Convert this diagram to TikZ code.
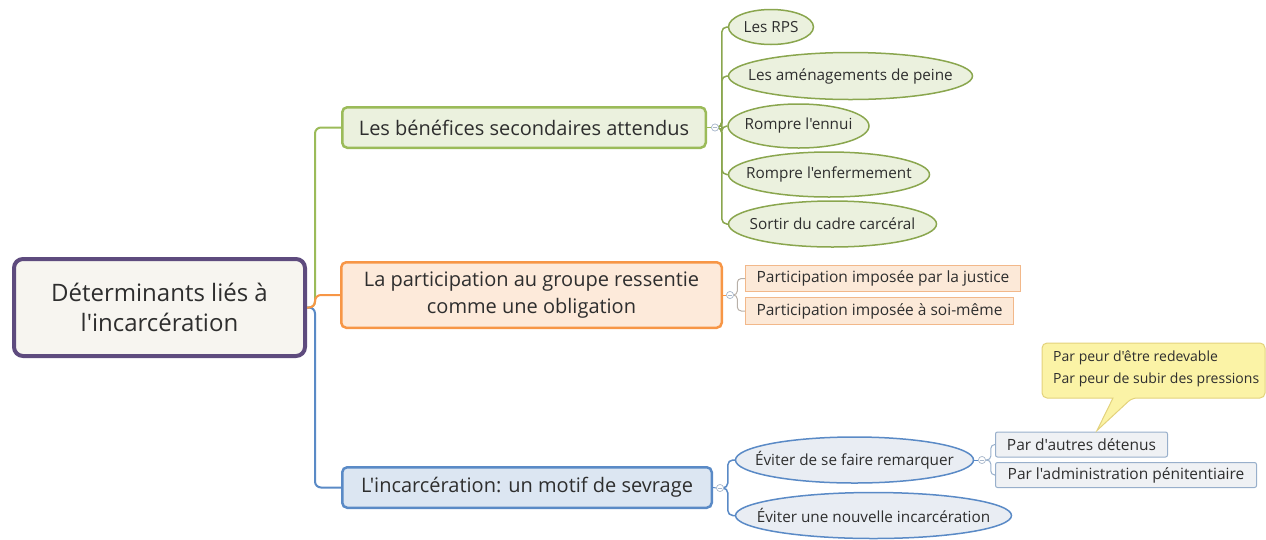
\documentclass[tikz,border=0pt]{standalone}
\usepackage{fontspec}
\setmainfont{Open Sans}[Ligatures=TeXOff]
\usetikzlibrary{shapes.geometric}
\definecolor{txt}{HTML}{2E2E2E}
\definecolor{purp}{HTML}{5E4B7E}
\definecolor{rootfill}{HTML}{F7F5F0}
\definecolor{grn}{HTML}{9BBB59}
\definecolor{grnfill}{HTML}{EBF1DE}
\definecolor{grnline}{HTML}{8AA64E}
\definecolor{org}{HTML}{F79646}
\definecolor{orgfill}{HTML}{FDEADA}
\definecolor{orgleaf}{HTML}{F2B88A}
\definecolor{orgleaffill}{HTML}{FCE9D8}
\definecolor{orgline}{HTML}{B8B0A8}
\definecolor{blu}{HTML}{5A8AC6}
\definecolor{blufill}{HTML}{DCE6F2}
\definecolor{bluleaf}{HTML}{E9EDF3}
\definecolor{rectfill}{HTML}{EFF1F4}
\definecolor{rectline}{HTML}{98AFCB}
\definecolor{callfill}{HTML}{FBF3A6}
\definecolor{callline}{HTML}{E3D27C}
\definecolor{collapse}{HTML}{A9B8CC}
\begin{document}
\begin{tikzpicture}[x=1pt,y=-1pt,
  rootbox/.style={draw=purp, line width=4pt, fill=rootfill, rounded corners=9pt, align=center,
    font=\fontsize{24}{30}\selectfont, text=txt, minimum width=291pt, minimum height=97pt, inner sep=0pt},
  branch/.style={rectangle, rounded corners=5pt, line width=2.5pt, align=center,
    font=\fontsize{20}{27}\selectfont, text=txt, inner sep=0pt},
  gleaf/.style={ellipse, draw=grnline, fill=grnfill, line width=1.5pt, inner xsep=-300pt, inner ysep=-60pt,
    font=\fontsize{15.3}{18}\selectfont, text=txt},
  bleaf/.style={ellipse, draw=blu, fill=bluleaf, line width=1.5pt, inner xsep=-300pt, inner ysep=-60pt,
    font=\fontsize{15.3}{18}\selectfont, text=txt},
  oleaf/.style={rectangle, draw=orgleaf, fill=orgleaffill, line width=1pt, inner sep=0pt,
    font=\fontsize{15.5}{18}\selectfont, text=txt},
  rleaf/.style={rectangle, rounded corners=2pt, draw=rectline, fill=rectfill, line width=1pt, inner sep=0pt,
    font=\fontsize{15.5}{18}\selectfont, text=txt},
  knob/.style={circle, draw=collapse, fill=white, minimum size=7pt, inner sep=0pt, line width=0.6pt},
  conn/.style={line width=2pt, rounded corners=6pt},
  lconn/.style={line width=1.5pt, rounded corners=5pt}
]
\useasboundingbox (0,0) rectangle (1266,539);

% root
\node[rootbox] (root) at (159.5,307.5) {Déterminants liés à\\l'incarcération};

% branches
\node[branch, draw=grn, fill=grnfill, minimum width=363.5pt, minimum height=40.5pt] (b1) at (524,127.5) {Les bénéfices secondaires attendus};
\node[branch, draw=org, fill=orgfill, minimum width=380.5pt, minimum height=65.5pt] (b2) at (531.5,295) {La participation au groupe ressentie\\comme une obligation};
\node[branch, draw=blu, fill=blufill, minimum width=369.5pt, minimum height=40.5pt] (b3) at (527,487.5) {L'incarcération: un motif de sevrage};

% trunk connectors
\draw[conn, grn] (root.east) -- ++(8,0) |- (b1.west);
\draw[conn, blu] (root.east) -- ++(8,0) |- (b3.west);
\draw[conn, org] (root.east) -- ++(8,0) |- (b2.west);

% green leaves
\node[gleaf, minimum width=85pt, minimum height=35pt] (g1) at (771,27) {Les RPS};
\node[gleaf, minimum width=244pt, minimum height=47pt] (g2) at (850.5,76) {Les aménagements de peine};
\node[gleaf, minimum width=141pt, minimum height=44pt] (g3) at (798.5,126) {Rompre l'ennui};
\node[gleaf, minimum width=201pt, minimum height=45pt] (g4) at (829,174.5) {Rompre l'enfermement};
\node[gleaf, minimum width=208pt, minimum height=46pt] (g5) at (832.5,224) {Sortir du cadre carcéral};

\node[knob] (k1) at (715,127.5) {};
\draw[line width=1pt, grn] (b1.east) -- (k1.west);
\foreach \g in {g1,g2,g3,g4,g5}
  \draw[lconn, grnline] (k1.east) -- ++(3,0) |- (\g.west);
\node[knob] at (715,127.5) {};
\draw[collapse, line width=0.6pt] ([xshift=1.6pt]k1.west) -- ([xshift=-1.6pt]k1.east);

% orange leaves
\node[oleaf, minimum width=275pt, minimum height=26pt] (o1) at (883,278.5) {Participation imposée par la justice};
\node[oleaf, minimum width=268pt, minimum height=27pt] (o2) at (879.5,311) {Participation imposée à soi-même};

\node[knob] (k2) at (730,295) {};
\draw[line width=1pt, org] (b2.east) -- (k2.west);
\foreach \o in {o1,o2}
  \draw[line width=1pt, rounded corners=4pt, orgline] (k2.east) -- ++(3.5,0) |- (\o.west);
\node[knob] at (730,295) {};
\draw[collapse, line width=0.6pt] ([xshift=1.6pt]k2.west) -- ([xshift=-1.6pt]k2.east);

% blue leaves
\node[bleaf, minimum width=238pt, minimum height=46pt] (e1) at (854.5,460) {Éviter de se faire remarquer};
\node[bleaf, minimum width=276pt, minimum height=46pt] (e2) at (873.5,515.5) {Éviter une nouvelle incarcération};

\node[knob] (k3) at (720,488) {};
\draw[line width=1pt, blu] (b3.east) -- (k3.west);
\foreach \e in {e1,e2}
  \draw[lconn, blu] (k3.east) -- ++(4,0) |- (\e.west);
\node[knob] at (720,488) {};
\draw[collapse, line width=0.6pt] ([xshift=1.6pt]k3.west) -- ([xshift=-1.6pt]k3.east);

% blue rect leaves
\node[rleaf, minimum width=172pt, minimum height=25pt] (r1) at (1081.5,444.5) {Par d'autres détenus};
\node[rleaf, minimum width=261pt, minimum height=25pt] (r2) at (1126,475) {Par l'administration pénitentiaire};

\node[knob] (k4) at (982,460) {};
\draw[line width=1pt, blu] (e1.east) -- (k4.west);
\foreach \r in {r1,r2}
  \draw[line width=1pt, rounded corners=4pt, rectline] (k4.east) -- ++(5,0) |- (\r.west);
\node[knob] at (982,460) {};
\draw[collapse, line width=0.6pt] ([xshift=1.6pt]k4.west) -- ([xshift=-1.6pt]k4.east);

% callout
\coordinate (tip) at ([xshift=102pt,yshift=1pt]r1.north west);
\draw[callline, fill=callfill, line width=1pt, rounded corners=5pt]
  (1042,343) -- (1265,343) -- (1265,398) -- (1132,398) [sharp corners] -- (tip) -- (1113,398)
  [rounded corners=5pt] -- (1042,398) -- cycle;
\node[anchor=west, align=left, inner sep=0pt, text=txt, font=\fontsize{14}{22}\selectfont] (ct) at (1053,369) {Par peur d'être redevable\\Par peur de subir des pressions};
\end{tikzpicture}
\end{document}
